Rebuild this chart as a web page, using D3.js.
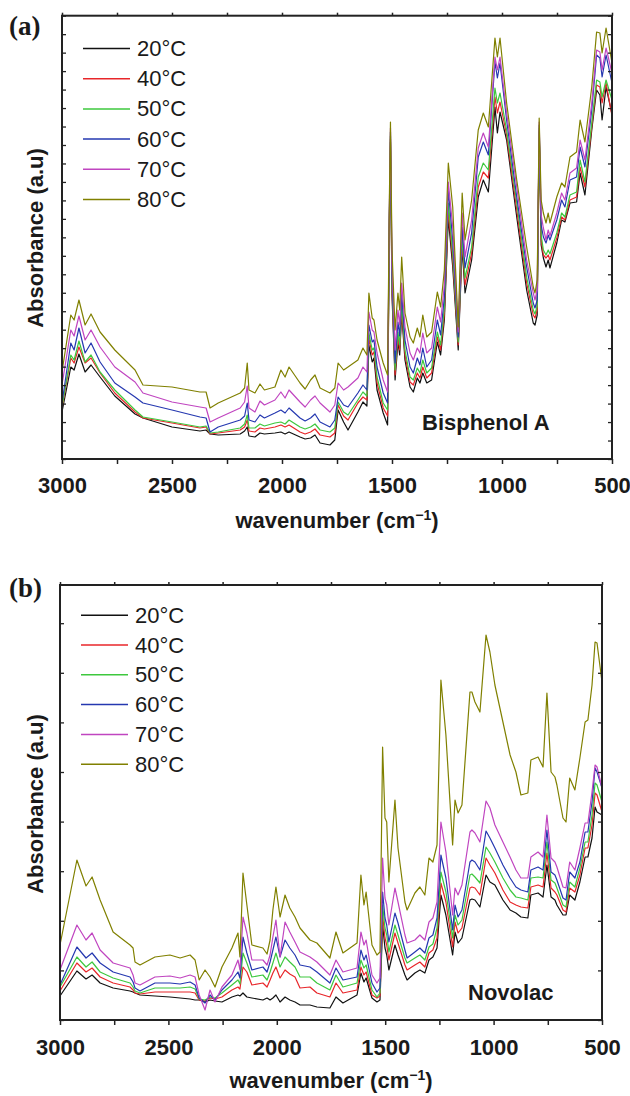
<!DOCTYPE html>
<html>
<head>
<meta charset="utf-8">
<script src="https://cdn.jsdelivr.net/npm/d3@7"></script>
<style>
  body { margin: 0; background: #fff; }
  svg { display: block; }
  .tick text { font-family: "Liberation Sans", Arial, sans-serif; font-weight: bold; font-size: 22px; fill: #1a1a1a; }
</style>
</head>
<body>
<svg id="chart" width="630" height="1096"></svg>
<script>
//
// Data (absorbance in arbitrary units)
//
var temps = ["20°C", "40°C", "50°C", "60°C", "70°C", "80°C"];
var colors = ["#111111", "#e8262a", "#3ec83e", "#2538b0", "#c045c0", "#808000"];

// (a) Bisphenol A
var wnA = [3000,2960,2945,2923,2895,2868,2827,2760,2668,2632,
  2500,2373,2345,2327,2290,2190,2170,2158,2150,2123,
  2100,2080,2032,2005,1986,1968,1918,1895,1870,1850,1827,1782,1760,
  1745,1720,1700,1655,1632,1614,1605,1590,1582,1568,
  1540,1520,1512,1507,1500,1486,1473,1465,1456,1441,
  1418,1403,1385,1373,1360,1342,1320,1294,1279,1262,
  1244,1224,1199,1181,1168,1138,1108,1085,1062,1032,
  1021,1009,979,933,888,858,850,840,831,822,
  812,800,790,782,751,729,714,691,661,645,
  623,592,570,555,545,527,500];
var bpa80 = [87,144,139,159,134,145,127,109,89,74,
  72,67,67,51,56,66,71,96,69,66,
  75,69,72,89,82,92,76,70,79,84,71,66,71,
  96,89,92,99,111,104,166,141,139,119,
  96,84,259,337,209,129,166,149,202,146,
  122,116,131,122,144,122,127,167,152,189,
  296,252,132,266,219,259,329,346,332,421,
  402,421,356,279,212,172,166,179,341,259,
  246,236,246,236,262,276,272,302,307,339,
  317,372,427,426,406,431,396];
var bpa70 = [74,129,123,143,119,129,112,92,77,66,
  57,52,51,37,41,51,57,73,51,47,
  58,54,59,67,61,69,57,52,59,63,56,47,54,
  76,69,72,81,92,87,147,129,127,106,
  79,67,249,331,194,109,149,134,176,132,
  106,99,111,106,126,106,111,152,137,174,
  277,232,127,246,202,239,311,326,312,402,
  389,402,346,272,199,166,159,169,337,244,
  231,219,229,223,246,266,259,286,291,319,
  299,356,409,407,389,411,386];
var bpa60 = [56,116,109,131,106,116,97,76,62,56,
  49,42,41,27,32,39,43,56,39,37,
  44,41,46,49,46,51,41,38,41,45,37,32,39,
  62,54,52,66,74,69,134,117,119,92,
  66,56,244,327,184,96,137,123,166,119,
  92,86,101,94,111,92,99,139,124,162,
  269,219,122,232,191,226,302,317,304,397,
  381,396,339,262,192,156,151,159,334,234,
  222,216,224,219,239,259,252,279,282,312,
  292,349,404,401,382,404,376];
var bpa50 = [52,104,99,118,97,104,87,69,49,42,
  37,32,33,26,27,31,35,44,31,31,
  35,33,36,37,35,39,32,30,32,35,29,27,31,
  57,47,44,59,67,63,126,109,111,82,
  56,49,239,323,174,89,127,114,156,109,
  82,79,91,86,99,86,91,127,114,151,
  256,206,117,222,181,212,282,296,289,371,
  356,366,329,256,182,149,145,153,331,224,
  209,204,209,205,226,246,242,264,267,299,
  277,336,379,377,362,379,359];
var bpa40 = [51,101,96,112,96,101,86,66,47,41,
  36,31,32,25,26,29,32,39,28,27,
  31,30,32,34,32,34,27,25,27,30,24,22,26,
  54,43,39,56,62,59,121,104,107,76,
  51,43,236,320,169,84,122,109,151,104,
  77,74,86,81,92,81,86,122,109,145,
  249,199,114,217,174,206,272,287,281,362,
  346,357,324,249,176,144,141,149,329,219,
  204,201,204,199,221,242,239,259,262,292,
  272,332,374,372,356,376,343];
var bpa20 = [47,92,89,105,87,94,82,63,45,41,
  32,28,29,25,24,25,28,32,23,22,
  26,25,26,27,25,27,22,20,21,24,16,14,19,
  49,37,29,47,57,53,114,97,101,69,
  46,34,233,317,164,79,117,104,146,99,
  72,67,81,76,86,76,79,117,104,139,
  241,192,109,212,166,199,262,279,267,352,
  326,347,319,242,169,136,134,144,327,214,
  201,192,199,191,216,239,237,256,257,286,
  264,329,369,364,339,372,345];

// (b) Novolac
var wnB = [3000,2922,2880,2852,2815,2755,2677,2663,2654,2631,
  2562,2493,2446,2400,2377,2358,2331,2308,2285,2253,
  2207,2179,2170,2156,2138,2115,2064,2045,2031,2018,2004,
  1985,1962,1940,1916,1893,1847,1815,1755,1727,1695,1630,
  1612,1598,1588,1561,1538,1524,1512,1501,1493,1483,
  1455,1441,1409,1399,1363,1340,1317,1298,1280,1261,
  1243,1220,1189,1178,1164,1146,1109,1100,1086,1063,
  1035,1017,994,957,924,897,874,842,828,795,
  772,754,735,717,708,680,666,649,625,602,
  578,565,546,532,523,500];
var nov80 = [75,160,134,143,120,88,75,72,58,55,
  63,65,62,65,60,40,50,43,33,53,
  72,87,63,147,115,75,72,66,80,110,133,
  103,125,112,103,92,80,77,62,88,67,77,
  145,115,128,75,65,68,273,202,198,138,
  220,172,118,110,127,133,125,162,158,175,
  340,285,175,220,207,215,328,328,318,308,
  385,368,335,298,265,248,225,227,260,263,
  253,327,248,243,235,202,198,242,230,262,
  298,300,335,378,377,338];
var nov70 = [50,95,80,87,70,57,52,45,37,35,
  43,44,42,45,43,25,10,30,18,33,
  45,60,50,103,87,60,60,55,65,83,100,
  63,98,88,78,68,63,58,45,60,48,52,
  88,75,80,45,37,42,162,122,115,95,
  132,118,85,77,80,85,80,98,102,118,
  198,168,105,132,125,135,188,190,187,178,
  219,212,195,178,163,150,142,142,163,168,
  163,205,162,158,153,133,132,158,150,172,
  197,197,228,255,253,232];
var nov60 = [35,73,62,67,57,48,43,38,32,29,
  37,37,36,38,35,22,17,25,20,30,
  40,48,42,83,67,50,53,48,58,70,83,
  63,80,72,65,55,53,48,37,52,40,43,
  70,60,65,37,28,32,128,102,95,78,
  107,97,70,62,68,72,67,82,85,102,
  165,142,90,115,103,110,158,160,158,150,
  189,182,172,155,142,133,130,128,150,153,
  150,190,148,145,140,122,120,148,142,158,
  188,188,218,252,248,232];
var nov50 = [33,63,53,58,48,42,37,33,29,27,
  32,32,32,33,31,21,20,23,22,27,
  35,40,36,67,57,43,45,40,48,57,67,
  53,63,58,53,43,43,37,30,45,33,37,
  60,52,55,30,23,27,115,92,85,68,
  95,85,62,57,62,65,60,73,76,92,
  148,128,82,105,95,100,145,146,143,137,
  173,167,158,142,130,123,122,120,142,143,
  142,178,140,137,132,115,113,138,133,152,
  178,178,205,237,235,218];
var nov40 = [29,57,48,52,43,37,33,30,27,26,
  28,28,28,28,27,20,19,22,21,23,
  30,33,31,53,48,35,37,33,40,47,53,
  42,50,46,43,32,33,27,23,37,27,30,
  53,45,48,25,22,24,105,82,75,60,
  87,77,55,50,55,58,53,67,70,82,
  137,118,73,98,87,92,132,133,132,125,
  162,155,147,130,118,115,113,112,133,135,
  133,167,132,128,125,110,108,132,128,145,
  172,172,195,227,225,208];
var nov20 = [24,49,41,45,37,32,29,28,27,25,
  24,23,22,21,20,20,18,20,19,18,
  23,25,24,27,23,22,20,22,20,22,25,
  18,23,20,18,15,15,13,12,23,17,25,
  47,38,42,22,18,20,95,72,65,50,
  75,65,45,40,47,50,47,60,63,72,
  125,105,65,88,77,82,120,121,120,113,
  145,138,135,120,110,107,103,102,125,127,
  123,155,123,120,115,105,105,125,120,138,
  163,163,182,213,208,205];

var xTicks = [3000, 2750, 2500, 2250, 2000, 1750, 1500, 1250, 1000, 750, 500];

//
// Drawing
//
var svg = d3.select("#chart");
var sans = "'Liberation Sans', Arial, sans-serif";

function drawPanel(p)
{
	var g = svg.append("g");
	var x = d3.scaleLinear().domain([3000, 500]).range([p.left, p.right]);
	var y = d3.scaleLinear().domain([0, p.yMax]).range([p.bottom, p.top]);

	// spectra, coolest first so 80°C ends up on top
	var line = d3.line().x(function(d) { return x(d[0]); }).y(function(d) { return y(d[1]); });
	p.series.forEach(function(s, i) {
		var pts = p.wn.map(function(w, j) { return [w, s[j]]; });
		g.append("path")
			.attr("fill", "none")
			.attr("stroke", colors[i])
			.attr("stroke-width", 1.2)
			.attr("stroke-linejoin", "round")
			.attr("d", line(pts));
	});

	// axes
	var bottom = d3.axisBottom(x).tickValues(xTicks).tickSize(5).tickPadding(p.pad)
		.tickFormat(function(d) { return d % 500 === 0 ? d : ""; });
	var gb = g.append("g").attr("transform", "translate(0," + p.bottom + ")").call(bottom);
	gb.select(".domain").remove();
	gb.selectAll(".tick line").attr("stroke", "#222").attr("stroke-width", 1.5);

	var top = d3.axisTop(x).tickValues(xTicks).tickSize(3).tickFormat("");
	var gt = g.append("g").attr("transform", "translate(0," + p.top + ")").call(top);
	gt.select(".domain").remove();
	gt.selectAll(".tick line").attr("stroke", "#222").attr("stroke-width", 1.5);

	var yt = d3.range(0, p.yMax + 0.5, p.yStep);
	var gl = g.append("g").attr("transform", "translate(" + p.left + ",0)")
		.call(d3.axisLeft(y).tickValues(yt).tickSize(-4).tickFormat(""));
	var gr = g.append("g").attr("transform", "translate(" + p.right + ",0)")
		.call(d3.axisRight(y).tickValues(yt).tickSize(-4).tickFormat(""));
	[gl, gr].forEach(function(a) {
		a.select(".domain").remove();
		a.selectAll(".tick line").attr("stroke", "#222").attr("stroke-width", 1.3);
	});

	g.append("rect")
		.attr("x", p.left).attr("y", p.top)
		.attr("width", p.right - p.left).attr("height", p.bottom - p.top)
		.attr("fill", "none").attr("stroke", "#222").attr("stroke-width", 2);

	// axis titles
	var xt = g.append("text")
		.attr("x", (p.left + p.right) / 2).attr("y", p.xTitleY)
		.attr("text-anchor", "middle")
		.style("font-family", sans).style("font-weight", "bold").style("font-size", "22px")
		.attr("fill", "#1a1a1a");
	xt.append("tspan").text("wavenumber (cm");
	xt.append("tspan").attr("dy", -8).style("font-size", "14px").text("\u22121");
	xt.append("tspan").attr("dy", 8).text(")");

	g.append("text")
		.attr("transform", "translate(43," + p.yTitleY + ") rotate(-90)")
		.attr("text-anchor", "middle")
		.style("font-family", sans).style("font-weight", "bold").style("font-size", "22px")
		.attr("fill", "#1a1a1a")
		.text("Absorbance (a.u)");

	// panel letter
	g.append("text")
		.attr("x", 9).attr("y", p.letterY)
		.style("font-family", "'Liberation Serif', 'Times New Roman', serif")
		.style("font-weight", "bold").style("font-size", "27px")
		.attr("fill", "#1a1a1a")
		.text(p.letter);

	// sample name
	g.append("text")
		.attr("x", p.nameX).attr("y", p.nameY)
		.style("font-family", sans).style("font-weight", "bold").style("font-size", "22px")
		.attr("fill", "#1a1a1a")
		.text(p.name);

	// legend
	temps.forEach(function(t, i) {
		var by = p.legY + i * p.legStep;
		g.append("line")
			.attr("x1", p.legX).attr("x2", p.legX + 47)
			.attr("y1", by - 7.5).attr("y2", by - 7.5)
			.attr("stroke", colors[i]).attr("stroke-width", 1.5);
		g.append("text")
			.attr("x", p.legX + 54).attr("y", by)
			.style("font-family", sans).style("font-size", "22px")
			.attr("fill", "#1a1a1a")
			.text(t);
	});
}

drawPanel({
	letter: "(a)", letterY: 35, name: "Bisphenol A", nameX: 422, nameY: 430,
	left: 62, right: 612, top: 15.7, bottom: 459,
	yMax: 443.3, yStep: 443.3 / 24, pad: 13,
	xTitleY: 528, yTitleY: 238,
	legX: 83, legY: 56, legStep: 30.2,
	wn: wnA, series: [bpa20, bpa40, bpa50, bpa60, bpa70, bpa80]
});

drawPanel({
	letter: "(b)", letterY: 597, name: "Novolac", nameX: 468, nameY: 1000,
	left: 60, right: 602, top: 585, bottom: 1020,
	yMax: 435, yStep: 49.6, pad: 14,
	xTitleY: 1088, yTitleY: 804,
	legX: 81, legY: 622.7, legStep: 29.8,
	wn: wnB, series: [nov20, nov40, nov50, nov60, nov70, nov80]
});
</script>
</body>
</html>
